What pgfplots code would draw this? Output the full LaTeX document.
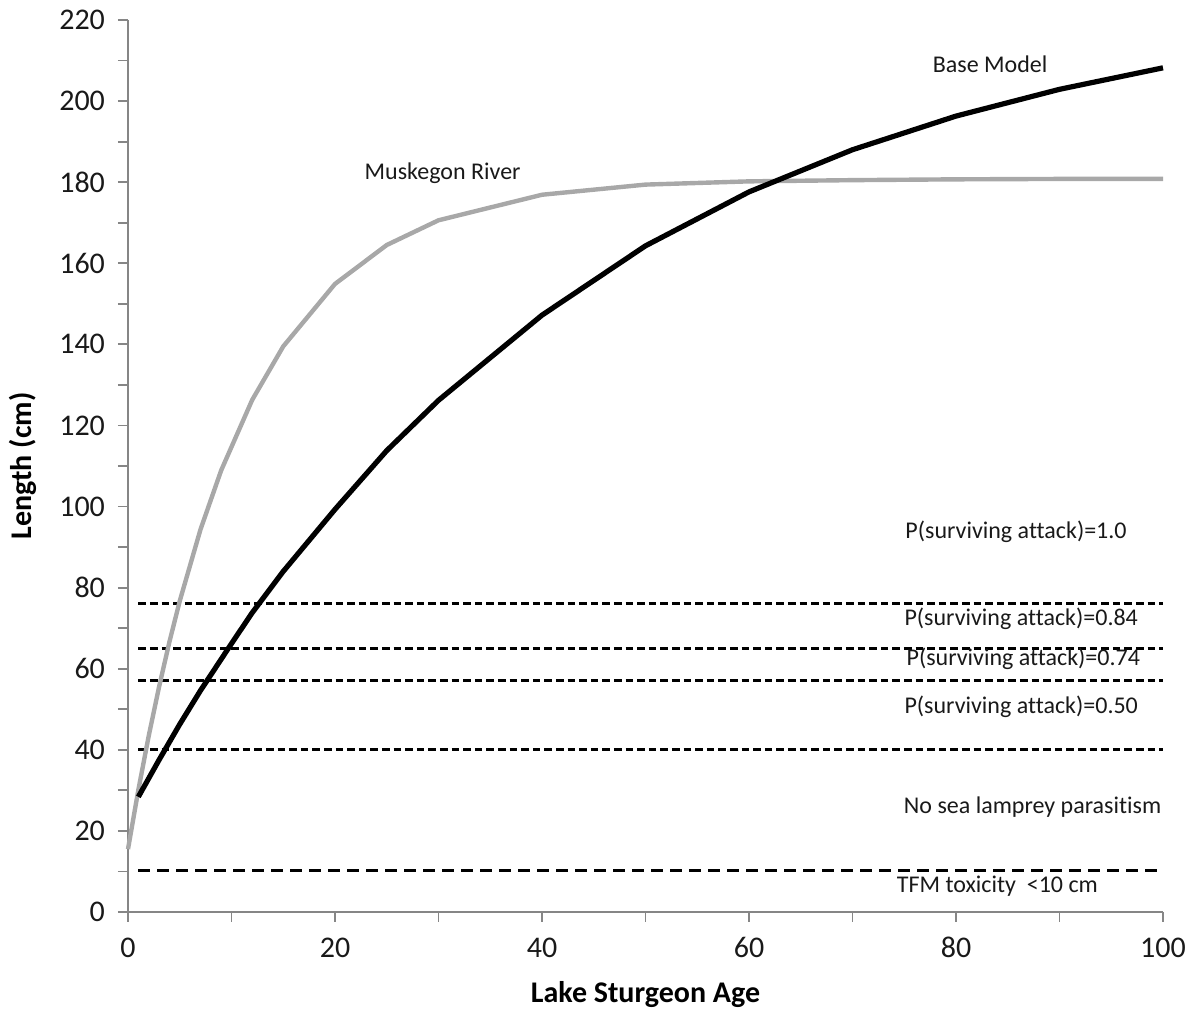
\documentclass[border=0pt]{standalone}
\usepackage{pgfplots}
\pgfplotsset{compat=1.18}
\usepackage{fontspec}
\setmainfont[Ligatures=CommonOff]{Carlito}
\definecolor{axgray}{HTML}{868686}
\definecolor{musk}{HTML}{A8A8A8}
\begin{document}
\begin{tikzpicture}
\begin{axis}[
  name=ax,
  scale only axis,
  width=517.5pt, height=446pt,
  xmin=0, xmax=100, ymin=0, ymax=220,
  axis x line=bottom, axis y line=left,
  axis line style={-, draw=axgray, line width=0.9pt},
  xtick={0,20,...,100}, ytick={0,20,...,220},
  minor xtick={10,30,50,70,90}, minor ytick={10,30,...,210},
  tick align=outside,
  major tick length=5pt, minor tick length=5pt,
  every tick/.style={draw=axgray, line width=0.9pt},
  /pgf/number format/assume math mode=true,
  tick label style={font=\fontsize{15}{15}\selectfont, text=black!90},
  xticklabel style={text height=9.6pt, text depth=0pt, yshift=-4.5pt},
  yticklabel style={xshift=-3pt},
  xlabel={\textbf{Lake Sturgeon Age}},
  ylabel={\textbf{Length (cm)}},
  xlabel style={font=\fontsize{15}{15}\selectfont, at={(axis description cs:0.5,-0.093)}, anchor=center},
  ylabel style={font=\fontsize{15}{15}\selectfont, at={(axis description cs:-0.1014,0.5)}, anchor=center},
  clip=false,
]
% dashed thresholds
\addplot[black, line width=1.5pt, dash pattern=on 3.8pt off 2pt] coordinates {(1,76) (100,76)};
\addplot[black, line width=1.5pt, dash pattern=on 3.8pt off 2pt] coordinates {(1,65) (100,65)};
\addplot[black, line width=1.5pt, dash pattern=on 3.8pt off 2pt] coordinates {(1,57) (100,57)};
\addplot[black, line width=1.5pt, dash pattern=on 3.8pt off 2pt] coordinates {(1,40) (100,40)};
\addplot[black, line width=1.5pt, dash pattern=on 6pt off 3.5pt] coordinates {(1,10.2) (100,10.2)};
% Muskegon River
\addplot[musk, line width=2.2pt, line join=round] coordinates {
(0,15.5) (1,30.1) (2,43.4) (3,55.5) (4,66.6) (5,76.7) (7,94.3) (9,108.9)
(12,126.3) (15,139.5) (20,154.9) (25,164.5) (30,170.6) (40,176.9)
(50,179.4) (60,180.2) (70,180.5) (80,180.7) (90,180.8) (100,180.8)};
% Base model
\addplot[black, line width=2.6pt, line join=round] coordinates {
(1,28.4) (3,37.5) (5,46.3) (7,54.6) (10,66.2) (12,73.8) (15,84.0) (20,99.3)
(25,113.8) (30,126.2) (40,147.2) (50,164.3) (60,177.6) (70,188.0)
(80,196.3) (90,202.9) (100,208.2)};
% annotations
\begin{scope}[every node/.style={font=\fontsize{12}{12}\selectfont, text=black!90}]
\node at (axis cs:83.3,209) {Base Model};
\node at (axis cs:30.4,182.3) {Muskegon River};
\node at (axis cs:85.8,93.7) {P(surviving attack)=1.0};
\node at (axis cs:86.3,72.3) {P(surviving attack)=0.84};
\node at (axis cs:86.5,62.4) {P(surviving attack)=0.74};
\node at (axis cs:86.3,50.6) {P(surviving attack)=0.50};
\node at (axis cs:87.4,25.9) {No sea lamprey parasitism};
\node at (axis cs:84.0,6.4) {TFM toxicity\ \ {<}10 cm};
\end{scope}
\end{axis}
\path[use as bounding box] ([xshift=-64pt,yshift=-52pt]ax.south west) rectangle ([xshift=19pt,yshift=10pt]ax.north east);
\end{tikzpicture}
\end{document}
